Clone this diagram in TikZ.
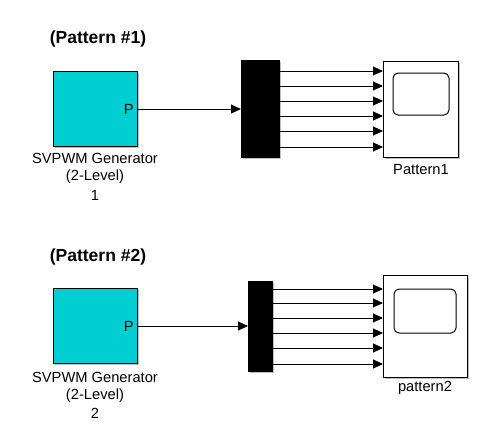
\documentclass[tikz,border=0pt]{standalone}
\usepackage{fontspec}
\setmainfont{Liberation Sans}
\usetikzlibrary{arrows.meta}
\definecolor{cyanblk}{RGB}{0,206,209}
\tikzset{
  x=1pt,y=-1pt,
  lbl/.style={font=\fontsize{14.7}{16}\selectfont, inner sep=0pt},
  ttl/.style={font=\fontsize{17.5}{20}\selectfont\bfseries, inner sep=0pt},
  sig/.style={line width=1pt, -{Triangle[length=10pt,width=9pt]}},
  shd/.style={fill=black!25},
}
\begin{document}
\begin{tikzpicture}
\useasboundingbox (0,0) rectangle (493,429);
% ---------- Pattern 1 ----------
\node[ttl] (t1) at (98,39) {(Pattern \#1)};
\fill[shd] (55,73) rectangle (139,148);
\draw[fill=cyanblk,line width=1pt] (53,71) rectangle (137,146);
\node[lbl,anchor=east] (p1) at (134,109) {P};
\coordinate (g1) at (137,109);
\node[lbl] (l1a) at (95,158) {SVPWM Generator};
\node[lbl] (l1b) at (95,177) {(2-Level)};
\node[lbl] (l1c) at (95,195) {1};
\fill[shd] (243,62) rectangle (281,159);
\node[draw,fill=black,minimum width=38pt,minimum height=97pt,inner sep=0pt,anchor=north west] (d1) at (241,60) {};
\draw[sig] (g1) -- (d1.west |- g1);
\fill[shd] (385,63) rectangle (460,159);
\node[draw,fill=white,line width=1pt,minimum width=75pt,minimum height=96pt,inner sep=0pt,anchor=north west] (s1) at (383,61) {};
\draw[line width=1pt,rounded corners=5pt] (393,73) rectangle (449,115);
\foreach \yy in {71,86,101,116,131,147}{
  \coordinate (a) at (279,\yy);
  \draw[sig] (a) -- (s1.west |- a);
}
\node[lbl] (n1) at (421,170) {Pattern1};
% ---------- Pattern 2 ----------
\node[ttl] (t2) at (98,257) {(Pattern \#2)};
\fill[shd] (55,290) rectangle (139,365);
\draw[fill=cyanblk,line width=1pt] (53,288) rectangle (137,363);
\node[lbl,anchor=east] (p2) at (134,326) {P};
\coordinate (g2) at (137,326);
\node[lbl] (l2a) at (95,377) {SVPWM Generator};
\node[lbl] (l2b) at (95,396) {(2-Level)};
\node[lbl] (l2c) at (95,413) {2};
\fill[shd] (250,283) rectangle (274,373);
\node[draw,fill=black,minimum width=24pt,minimum height=90pt,inner sep=0pt,anchor=north west] (d2) at (248,281) {};
\draw[sig] (g2) -- (d2.west |- g2);
\fill[shd] (385,277) rectangle (469,379);
\node[draw,fill=white,line width=1pt,minimum width=84pt,minimum height=102pt,inner sep=0pt,anchor=north west] (s2) at (383,275) {};
\draw[line width=1pt,rounded corners=5pt] (394,289) rectangle (456,333);
\foreach \yy in {289,303,318,333,348,364}{
  \coordinate (b) at (272,\yy);
  \draw[sig] (b) -- (s2.west |- b);
}
\node[lbl] (n2) at (425,388) {pattern2};
\end{tikzpicture}
\end{document}
